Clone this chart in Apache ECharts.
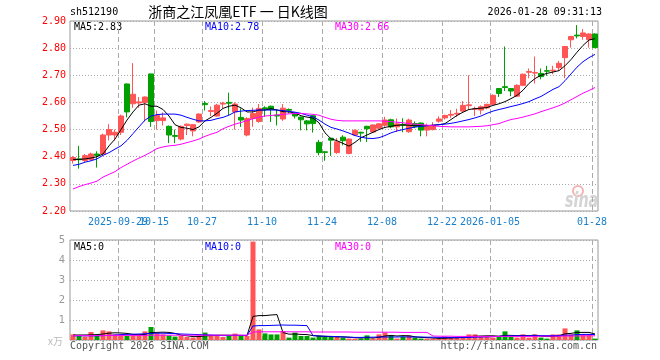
<!DOCTYPE html>
<html><head><meta charset="utf-8">
<script src="https://cdn.jsdelivr.net/npm/echarts@6/dist/echarts.min.js"></script>
<style>html,body{margin:0;padding:0;background:#fff}#c{width:660px;height:360px}</style>
</head><body><div id="c"></div>
<script>
// ---- data ----
const dates = [
 '2025-09-17','2025-09-18','2025-09-19','2025-09-22','2025-09-23','2025-09-24','2025-09-25','2025-09-26','2025-09-29','2025-09-30',
 '2025-10-09','2025-10-10','2025-10-13','2025-10-14','2025-10-15','2025-10-16','2025-10-17','2025-10-20','2025-10-21','2025-10-22',
 '2025-10-23','2025-10-24','2025-10-27','2025-10-28','2025-10-29','2025-10-30','2025-10-31','2025-11-03','2025-11-04','2025-11-05',
 '2025-11-06','2025-11-07','2025-11-10','2025-11-11','2025-11-12','2025-11-13','2025-11-14','2025-11-17','2025-11-18','2025-11-19',
 '2025-11-20','2025-11-21','2025-11-24','2025-11-25','2025-11-26','2025-11-27','2025-11-28','2025-12-01','2025-12-02','2025-12-03',
 '2025-12-04','2025-12-05','2025-12-08','2025-12-09','2025-12-10','2025-12-11','2025-12-12','2025-12-15','2025-12-16','2025-12-17',
 '2025-12-18','2025-12-19','2025-12-22','2025-12-23','2025-12-24','2025-12-25','2025-12-26','2025-12-29','2025-12-30','2025-12-31',
 '2026-01-05','2026-01-06','2026-01-07','2026-01-08','2026-01-09','2026-01-12','2026-01-13','2026-01-14','2026-01-15','2026-01-16',
 '2026-01-19','2026-01-20','2026-01-21','2026-01-22','2026-01-23','2026-01-26','2026-01-27','2026-01-28'];
const opens = [
 2.386,2.392,2.386,2.390,2.410,2.410,2.480,2.480,2.490,2.668,
 2.595,2.598,2.600,2.705,2.533,2.533,2.512,2.478,2.465,2.515,
 2.495,2.528,2.596,2.567,2.550,2.594,2.600,2.565,2.545,2.480,
 2.541,2.530,2.580,2.586,2.553,2.539,2.574,2.558,2.546,2.532,
 2.551,2.453,2.418,2.468,2.415,2.472,2.412,2.480,2.490,2.512,
 2.491,2.505,2.516,2.536,2.510,2.519,2.492,2.522,2.524,2.498,
 2.500,2.531,2.543,2.553,2.557,2.568,2.588,2.575,2.572,2.580,
 2.593,2.651,2.658,2.651,2.623,2.663,2.711,2.708,2.707,2.717,
 2.716,2.728,2.765,2.831,2.848,2.843,2.831,2.852];
const closes = [
 2.397,2.389,2.404,2.410,2.405,2.480,2.500,2.490,2.550,2.565,
 2.630,2.602,2.620,2.530,2.552,2.543,2.480,2.475,2.512,2.520,
 2.518,2.557,2.592,2.570,2.590,2.597,2.597,2.594,2.535,2.541,
 2.559,2.578,2.576,2.574,2.550,2.579,2.571,2.550,2.536,2.521,
 2.522,2.415,2.416,2.461,2.455,2.459,2.465,2.497,2.487,2.503,
 2.517,2.521,2.535,2.510,2.521,2.516,2.535,2.512,2.498,2.515,
 2.515,2.539,2.552,2.556,2.560,2.589,2.591,2.577,2.584,2.593,
 2.626,2.633,2.655,2.642,2.663,2.704,2.714,2.710,2.695,2.715,
 2.719,2.744,2.806,2.843,2.845,2.856,2.852,2.802];
const lows = [
 2.375,2.356,2.380,2.385,2.360,2.405,2.460,2.460,2.480,2.545,
 2.580,2.580,2.530,2.510,2.500,2.515,2.450,2.450,2.460,2.480,
 2.475,2.525,2.570,2.550,2.548,2.578,2.553,2.500,2.510,2.475,
 2.510,2.525,2.547,2.528,2.515,2.532,2.560,2.541,2.497,2.497,
 2.489,2.405,2.385,2.403,2.411,2.442,2.409,2.476,2.455,2.454,
 2.487,2.501,2.510,2.505,2.491,2.490,2.488,2.505,2.475,2.475,
 2.497,2.525,2.537,2.543,2.547,2.562,2.574,2.550,2.556,2.575,
 2.590,2.620,2.642,2.623,2.620,2.660,2.689,2.670,2.685,2.698,
 2.704,2.716,2.689,2.802,2.836,2.831,2.802,2.800];
const highs = [
 2.402,2.440,2.410,2.415,2.420,2.485,2.520,2.500,2.555,2.670,
 2.745,2.620,2.622,2.705,2.570,2.563,2.515,2.500,2.515,2.522,
 2.520,2.560,2.605,2.585,2.595,2.602,2.636,2.600,2.578,2.545,
 2.581,2.594,2.586,2.588,2.575,2.594,2.578,2.560,2.548,2.535,
 2.553,2.462,2.420,2.470,2.469,2.479,2.467,2.501,2.492,2.514,
 2.519,2.523,2.547,2.540,2.541,2.542,2.540,2.530,2.526,2.522,
 2.527,2.549,2.555,2.572,2.577,2.605,2.700,2.584,2.589,2.595,
 2.630,2.653,2.806,2.653,2.667,2.706,2.725,2.769,2.725,2.735,
 2.735,2.753,2.808,2.845,2.885,2.870,2.855,2.855];
const ma5 = [
 2.390,2.390,2.392,2.395,2.400,2.410,2.440,2.465,2.500,2.535,
 2.565,2.590,2.595,2.586,2.586,2.574,2.550,2.518,2.508,2.505,
 2.500,2.510,2.532,2.545,2.560,2.578,2.586,2.590,2.580,2.565,
 2.565,2.572,2.572,2.577,2.572,2.566,2.565,2.561,2.551,2.546,
 2.542,2.525,2.488,2.466,2.459,2.449,2.439,2.453,2.470,2.480,
 2.490,2.500,2.508,2.512,2.516,2.517,2.516,2.514,2.514,2.515,
 2.516,2.518,2.522,2.537,2.552,2.564,2.574,2.577,2.579,2.581,
 2.589,2.595,2.603,2.614,2.626,2.645,2.670,2.688,2.700,2.707,
 2.712,2.717,2.735,2.758,2.785,2.810,2.830,2.835];
const ma10 = [
 2.368,2.372,2.380,2.385,2.392,2.405,2.415,2.428,2.440,2.460,
 2.485,2.510,2.535,2.550,2.555,2.557,2.557,2.557,2.553,2.545,
 2.538,2.532,2.532,2.534,2.540,2.545,2.553,2.565,2.568,2.570,
 2.571,2.572,2.572,2.572,2.572,2.570,2.567,2.564,2.560,2.553,
 2.547,2.535,2.520,2.508,2.502,2.495,2.487,2.478,2.472,2.468,
 2.467,2.470,2.478,2.488,2.495,2.500,2.505,2.509,2.512,2.514,
 2.516,2.518,2.520,2.523,2.527,2.532,2.537,2.543,2.550,2.560,
 2.568,2.574,2.579,2.585,2.590,2.596,2.603,2.613,2.622,2.635,
 2.648,2.658,2.680,2.705,2.730,2.750,2.765,2.777];
const ma30 = [
 2.281,2.290,2.297,2.303,2.310,2.325,2.335,2.345,2.360,2.372,
 2.384,2.395,2.405,2.417,2.430,2.436,2.440,2.442,2.446,2.452,
 2.458,2.465,2.475,2.483,2.490,2.503,2.512,2.520,2.526,2.533,
 2.540,2.546,2.550,2.552,2.554,2.556,2.558,2.559,2.559,2.558,
 2.556,2.553,2.545,2.538,2.534,2.532,2.532,2.532,2.532,2.532,
 2.532,2.532,2.531,2.529,2.527,2.525,2.522,2.520,2.518,2.516,
 2.514,2.512,2.511,2.510,2.510,2.510,2.510,2.511,2.512,2.514,
 2.518,2.522,2.530,2.537,2.541,2.546,2.552,2.558,2.566,2.573,
 2.580,2.588,2.598,2.610,2.622,2.634,2.644,2.655];
const volumes = [
 0.28,0.20,0.17,0.40,0.20,0.48,0.43,0.28,0.28,0.20,
 0.23,0.28,0.43,0.65,0.33,0.28,0.23,0.17,0.20,0.15,
 0.12,0.23,0.37,0.23,0.23,0.15,0.23,0.32,0.20,0.20,
 4.92,0.53,0.33,0.28,0.28,0.45,0.12,0.37,0.20,0.20,
 0.12,0.20,0.17,0.17,0.15,0.12,0.07,0.07,0.07,0.23,
 0.07,0.28,0.37,0.20,0.07,0.17,0.23,0.12,0.07,0.07,
 0.07,0.07,0.17,0.12,0.12,0.17,0.28,0.28,0.17,0.20,
 0.12,0.17,0.43,0.17,0.12,0.28,0.12,0.28,0.12,0.07,
 0.28,0.28,0.58,0.28,0.48,0.28,0.28,0.07];
const volMa5 = [
 0.25,0.25,0.25,0.26,0.27,0.30,0.34,0.36,0.35,0.33,
 0.28,0.26,0.28,0.37,0.38,0.39,0.38,0.33,0.24,0.21,
 0.17,0.17,0.21,0.22,0.24,0.24,0.24,0.23,0.23,0.22,
 1.18,1.22,1.22,1.25,1.27,0.37,0.29,0.30,0.28,0.27,
 0.22,0.20,0.18,0.17,0.16,0.16,0.14,0.12,0.10,0.12,
 0.10,0.14,0.20,0.23,0.20,0.22,0.21,0.16,0.13,0.12,
 0.10,0.08,0.09,0.10,0.11,0.13,0.17,0.19,0.20,0.21,
 0.21,0.19,0.23,0.23,0.22,0.23,0.22,0.24,0.19,0.17,
 0.18,0.21,0.31,0.33,0.38,0.38,0.38,0.30];
const volMa10 = [
 0.21,0.21,0.21,0.21,0.21,0.22,0.23,0.25,0.27,0.28,
 0.29,0.30,0.31,0.33,0.34,0.34,0.33,0.32,0.30,0.29,
 0.28,0.27,0.26,0.25,0.23,0.22,0.22,0.23,0.23,0.23,
 0.70,0.72,0.72,0.73,0.74,0.75,0.74,0.74,0.73,0.72,
 0.22,0.20,0.19,0.18,0.17,0.15,0.14,0.13,0.13,0.14,
 0.14,0.15,0.15,0.15,0.15,0.16,0.15,0.15,0.15,0.14,
 0.14,0.13,0.13,0.12,0.12,0.12,0.13,0.14,0.15,0.16,
 0.17,0.18,0.20,0.21,0.21,0.21,0.21,0.22,0.22,0.22,
 0.22,0.22,0.24,0.24,0.27,0.28,0.28,0.27];
const volMa30 = [
 0.22,0.22,0.22,0.22,0.22,0.22,0.23,0.23,0.23,0.23,
 0.23,0.23,0.23,0.24,0.24,0.24,0.24,0.24,0.24,0.24,
 0.24,0.24,0.24,0.24,0.24,0.24,0.24,0.24,0.24,0.24,
 0.40,0.41,0.41,0.41,0.41,0.41,0.41,0.41,0.41,0.41,
 0.40,0.40,0.40,0.40,0.40,0.40,0.40,0.39,0.39,0.39,
 0.39,0.39,0.39,0.39,0.39,0.38,0.38,0.38,0.38,0.38,
 0.20,0.19,0.19,0.19,0.18,0.18,0.18,0.18,0.18,0.18,
 0.18,0.18,0.18,0.18,0.18,0.18,0.18,0.18,0.19,0.19,
 0.19,0.19,0.20,0.20,0.20,0.21,0.21,0.21];
const tickDates  = ['2025-09-29','2025-10-15','2025-10-27','2025-11-10','2025-11-24','2025-12-08','2025-12-22','2026-01-05','2026-01-28'];
const tickLabels = ['2025-09-29','10-15','10-27','11-10','11-24','12-08','12-22','2026-01-05','01-28'];
const priceMin = 2.2, priceMax = 2.9, priceStep = 0.1;
const volMin = 0, volMax = 5, volStep = 1;

// ---- chart ----
const UP = '#ff5555', DOWN = '#00a000';
const MONO = '"DejaVu Sans Mono", monospace';
const axisCats = dates.concat(['']);
const allTicks = new Set(tickDates);
// labels split across two axes so that the overlapping pair both stay visible
const setA = new Set(tickDates.filter((d, k) => k !== 1));
const setB = new Set(tickDates.filter((d, k) => k === 1));
const candleData = opens.map((o, i) => [o, closes[i], lows[i], highs[i]]);
const volData = volumes.map((v, i) => ({
  value: v, itemStyle: { color: closes[i] >= opens[i] ? UP : DOWN }
}));
const dashed = { show: true, interval: (i, v) => allTicks.has(v), lineStyle: { color: '#aaa', width: 1, type: [5, 3] } };
const dotted = { show: true, lineStyle: { color: '#aaa', width: 1, type: [1, 2] } };

function labelAxis(grid, labelSet, withSplit) {
  return {
    type: 'category', gridIndex: grid, position: 'bottom', data: axisCats, boundaryGap: false,
    axisLine: { show: false }, axisTick: { show: false },
    axisLabel: labelSet ? {
      show: true, interval: (i, v) => labelSet.has(v), hideOverlap: false, color: '#1a7fc9',
      fontFamily: MONO, fontSize: 10, margin: 6,
      formatter: v => tickLabels[tickDates.indexOf(v)]
    } : { show: false },
    splitLine: withSplit ? dashed : { show: false }
  };
}
function seriesAxis(grid) {
  return { type: 'category', gridIndex: grid, data: dates, boundaryGap: true, show: false };
}
function line(name, data, color, xi, yi) {
  return { name, type: 'line', data, xAxisIndex: xi, yAxisIndex: yi, symbol: 'none',
    lineStyle: { color, width: 1 }, itemStyle: { color }, silent: true, z: 3 };
}
function txt(x, y, text, fill, opts) {
  return Object.assign({ type: 'text', x, y, silent: true,
    style: Object.assign({ text, fill, font: '10px ' + MONO, verticalAlign: 'middle' }, opts || {}) });
}

const chart = echarts.init(document.getElementById('c'), null, { renderer: 'canvas' });
chart.setOption({
  animation: false,
  backgroundColor: '#fff',
  grid: [
    { left: 70, top: 21, width: 528, height: 190, show: true, borderColor: '#999', borderWidth: 1 },
    { left: 70, top: 240, width: 528, height: 100, show: true, borderColor: '#999', borderWidth: 1 }
  ],
  xAxis: [
    labelAxis(0, setA, true), seriesAxis(0), labelAxis(1, null, true), seriesAxis(1),
    labelAxis(0, setB, false)
  ],
  yAxis: [
    { type: 'value', gridIndex: 0, min: priceMin, max: priceMax, interval: priceStep,
      axisLine: { show: false }, axisTick: { show: false },
      axisLabel: { color: '#f00', fontFamily: MONO, fontSize: 10, margin: 4, formatter: v => v.toFixed(2) },
      splitLine: dotted },
    { type: 'value', gridIndex: 1, min: volMin, max: volMax, interval: volStep,
      axisLine: { show: false }, axisTick: { show: false },
      axisLabel: { color: '#999', fontFamily: '"DejaVu Sans", sans-serif', fontSize: 10, margin: 5,
        formatter: v => v === 0 ? '' : String(v) },
      splitLine: dotted }
  ],
  series: [
    { type: 'candlestick', xAxisIndex: 1, yAxisIndex: 0, data: candleData, barWidth: 5,
      itemStyle: { color: UP, color0: DOWN, borderColor: UP, borderColor0: DOWN, borderWidth: 1 }, silent: true, z: 2 },
    line('MA5', ma5, '#000000', 1, 0),
    line('MA10', ma10, '#0000ff', 1, 0),
    line('MA30', ma30, '#ff00ff', 1, 0),
    { type: 'bar', xAxisIndex: 3, yAxisIndex: 1, data: volData, barWidth: 5, silent: true, z: 2 },
    line('VMA5', volMa5, '#000000', 3, 1),
    line('VMA10', volMa10, '#0000ff', 3, 1),
    line('VMA30', volMa30, '#ff00ff', 3, 1)
  ],
  graphic: [
    txt(70, 12, 'sh512190', '#000'),
    txt(238, 12, '浙商之江凤凰ETF 一 日K线图', '#000', { font: '14px "Noto Sans CJK SC", sans-serif', align: 'center' }),
    txt(602, 12, '2026-01-28 09:31:13', '#000', { align: 'right' }),
    txt(74, 27, 'MA5:2.83', '#000'),
    txt(205, 27, 'MA10:2.78', '#0000ff'),
    txt(335, 27, 'MA30:2.66', '#ff00ff'),
    txt(74, 247, 'MA5:0', '#000'),
    txt(205, 247, 'MA10:0', '#0000ff'),
    txt(335, 247, 'MA30:0', '#ff00ff'),
    txt(63, 341, 'x万', '#bbb', { align: 'right', font: '10px "Noto Sans CJK SC", sans-serif' }),
    txt(70, 346, 'Copyright 2026 SINA.COM', '#555'),
    txt(597, 346, 'http://finance.sina.com.cn', '#555', { align: 'right' }),
    { type: 'circle', silent: true, shape: { cx: 578, cy: 191, r: 5 }, style: { fill: 'none', stroke: '#f4b4b4', lineWidth: 2 } },
    { type: 'text', silent: true, x: 565, y: 201, scaleX: 0.65,
      style: { text: 'sina', fill: '#d4d4d4', font: 'italic bold 22px "DejaVu Sans", sans-serif', verticalAlign: 'middle' } }
  ]
});
</script></body></html>
